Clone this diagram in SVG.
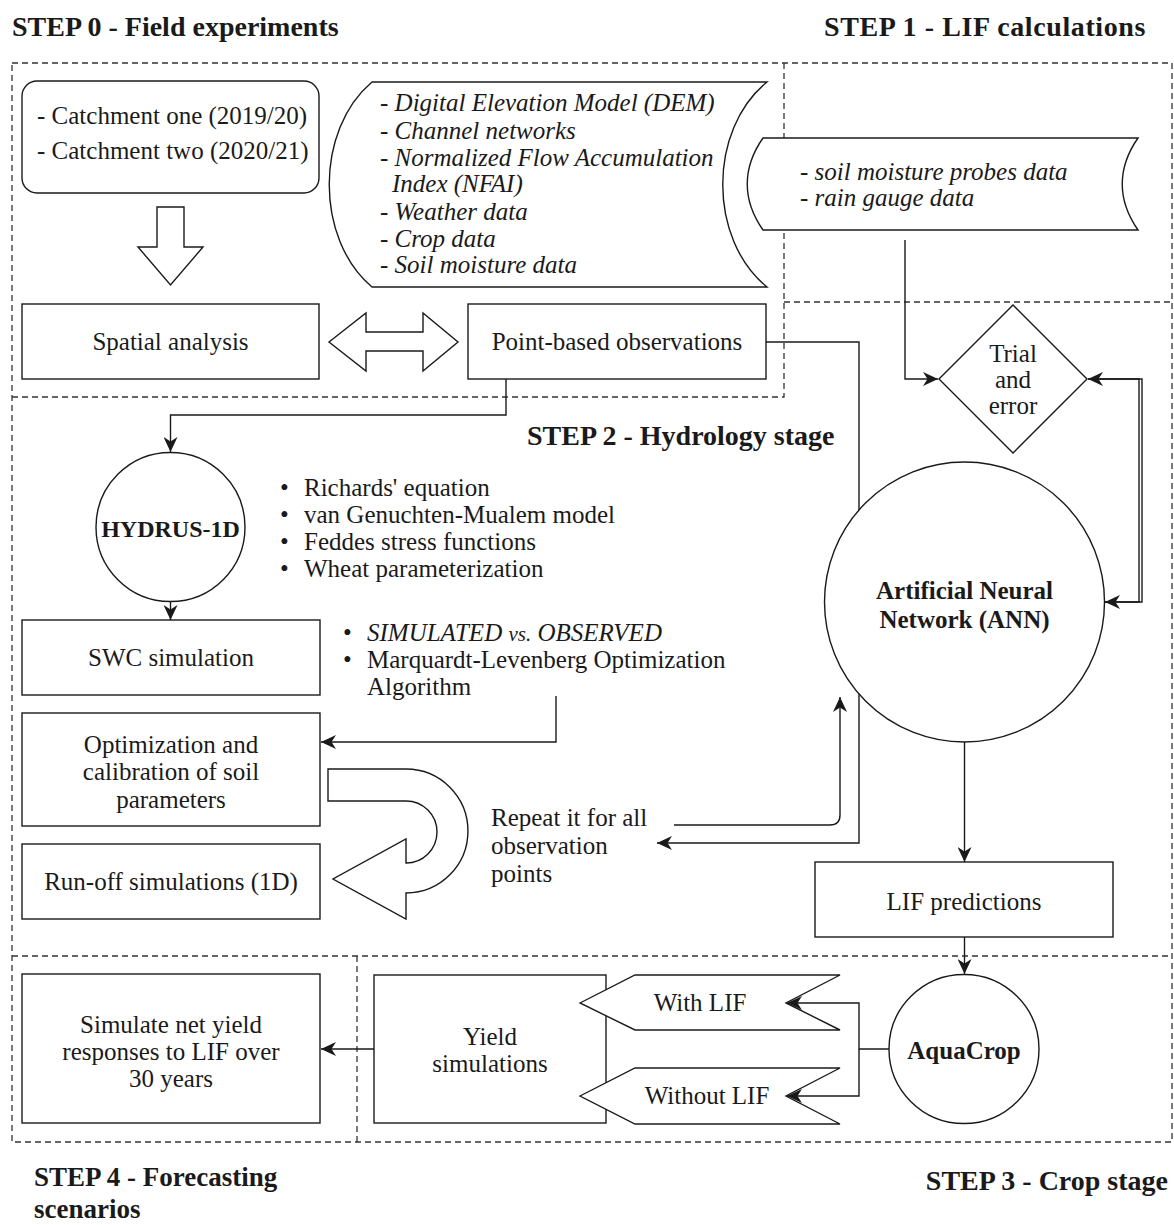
<svg xmlns="http://www.w3.org/2000/svg" width="1174" height="1225" viewBox="0 0 1174 1225">
<style>
.t{font-family:"Liberation Serif","Times New Roman",serif;font-size:25px;fill:#1a1a1a}
.b{font-weight:bold}
.i{font-style:italic}
.h{font-family:"Liberation Serif","Times New Roman",serif;font-size:28px;font-weight:bold;fill:#1a1a1a}
.m{text-anchor:middle}
.n{fill:#fff;stroke:#1a1a1a;stroke-width:1.4}
.d{fill:none;stroke:#333;stroke-width:1.3;stroke-dasharray:6 4}
.c{fill:none;stroke:#1a1a1a;stroke-width:1.4}
</style>
<defs>
<marker id="arr" viewBox="0 0 15 14" refX="15" refY="7" markerWidth="15" markerHeight="14" markerUnits="userSpaceOnUse" orient="auto">
<path d="M0,0 L15,7 L0,14 L4.5,7 Z" fill="#1a1a1a"/>
</marker>
</defs>
<rect width="1174" height="1225" fill="#fff"/>

<g id="regions">
<path class="d" d="M12,63 H1172 V1142 H12 Z"/>
<path class="d" d="M784,63 V397 H12"/>
<path class="d" d="M784,302 H1172"/>
<path class="d" d="M12,956 H1172"/>
<path class="d" d="M357,956 V1142"/>
</g>

<g id="titles">
<text class="h" x="12" y="36">STEP 0 - Field experiments</text>
<text class="h" x="824" y="36" style="letter-spacing:0.6px">STEP 1 - LIF calculations</text>
<text class="h" x="527" y="445">STEP 2 - Hydrology stage</text>
<text class="h" x="1168" y="1190" text-anchor="end">STEP 3 - Crop stage</text>
<text class="h" x="34" y="1186" style="font-size:27px">STEP 4 - Forecasting</text>
<text class="h" x="34" y="1218" style="font-size:27px">scenarios</text>
</g>

<g id="connectors">
<path class="c" d="M506,379 V415 H170.5 V452" marker-end="url(#arr)"/>
<path class="c" d="M170.5,602 V620" marker-end="url(#arr)"/>
<path class="c" d="M556,696 V742 H321" marker-end="url(#arr)"/>
<path class="c" d="M905,240 V379 H938" marker-end="url(#arr)"/>
<path class="c" d="M1105,602 H1142 V379 H1088" marker-end="url(#arr)"/>
<path class="c" d="M1088,379 H1139 V602 H1105" marker-end="url(#arr)"/>
<path class="c" d="M766,342 H859 V843 H657" marker-end="url(#arr)"/>
<path class="c" d="M674,825 H830 Q840,825 840,815 V697" marker-end="url(#arr)"/>
<path class="c" d="M964.5,742 V862" marker-end="url(#arr)"/>
<path class="c" d="M964.5,937 V974" marker-end="url(#arr)"/>
<path class="c" d="M889,1049 H859 V1003 H787" marker-end="url(#arr)"/>
<path class="c" d="M859,1049 V1096 H787" marker-end="url(#arr)"/>
<path class="c" d="M374,1049 H321" marker-end="url(#arr)"/>
</g>

<g id="catchments">
<rect class="n" x="22" y="81" width="297" height="112" rx="15"/>
<text class="t" x="37" y="124">- Catchment one (2019/20)</text>
<text class="t" x="37" y="159">- Catchment two (2020/21)</text>
</g>

<g id="data-inputs">
<path class="n" d="M372,82 H767 C708,130 708,239 767,287 H372 C315,239 315,130 372,82 Z"/>
<text class="t" x="380" y="111">- <tspan class="i">Digital Elevation Model (DEM)</tspan></text>
<text class="t" x="380" y="139">- <tspan class="i">Channel networks</tspan></text>
<text class="t" x="380" y="166">- <tspan class="i">Normalized Flow Accumulation</tspan></text>
<text class="t i" x="392" y="192">Index (NFAI)</text>
<text class="t" x="380" y="220">- <tspan class="i">Weather data</tspan></text>
<text class="t" x="380" y="247">- <tspan class="i">Crop data</tspan></text>
<text class="t" x="380" y="273">- <tspan class="i">Soil moisture data</tspan></text>
</g>

<g id="down-arrow">
<polygon class="n" points="157,207 184,207 184,247 203,247 170.5,285 138,247 157,247"/>
</g>

<g id="spatial-analysis">
<rect class="n" x="22" y="304" width="297" height="75"/>
<text class="t m" x="170.5" y="350">Spatial analysis</text>
</g>

<g id="double-arrow">
<polygon class="n" points="329,342 366,313 366,332 423,332 423,313 458,342 423,371 423,351 366,351 366,371"/>
</g>

<g id="point-observations">
<rect class="n" x="468" y="304" width="298" height="75"/>
<text class="t m" x="617" y="350">Point-based observations</text>
</g>

<g id="probes-data">
<path class="n" d="M763,138 H1138 C1117,168 1117,200 1138,230 H763 C742,200 742,168 763,138 Z"/>
<text class="t" x="800" y="180">- <tspan class="i">soil moisture probes data</tspan></text>
<text class="t" x="800" y="206">- <tspan class="i">rain gauge data</tspan></text>
</g>

<g id="trial-error">
<polygon class="n" points="1013,305 1087,379 1013,453 939,379"/>
<text class="t m" x="1013" y="362">Trial</text>
<text class="t m" x="1013" y="388">and</text>
<text class="t m" x="1013" y="414">error</text>
</g>

<g id="hydrus">
<circle class="n" cx="170.5" cy="527" r="74.5"/>
<text class="t b m" x="170.5" y="537" style="font-size:24px">HYDRUS-1D</text>
</g>

<g id="hydrus-notes">
<text class="t" x="280" y="496">•</text><text class="t" x="304" y="496">Richards' equation</text>
<text class="t" x="280" y="523">•</text><text class="t" x="304" y="523">van Genuchten-Mualem model</text>
<text class="t" x="280" y="550">•</text><text class="t" x="304" y="550">Feddes stress functions</text>
<text class="t" x="280" y="577">•</text><text class="t" x="304" y="577">Wheat parameterization</text>
</g>

<g id="swc-simulation">
<rect class="n" x="22" y="620" width="298" height="75"/>
<text class="t m" x="171" y="666">SWC simulation</text>
</g>

<g id="swc-notes">
<text class="t" x="343" y="641">•</text><text class="t i" x="367" y="641">SIMULATED <tspan style="font-size:21px">vs.</tspan> OBSERVED</text>
<text class="t" x="343" y="668">•</text><text class="t" x="367" y="668">Marquardt-Levenberg Optimization</text>
<text class="t" x="367" y="695">Algorithm</text>
</g>

<g id="optimization">
<rect class="n" x="22" y="713" width="298" height="113"/>
<text class="t m" x="171" y="753">Optimization and</text>
<text class="t m" x="171" y="780">calibration of soil</text>
<text class="t m" x="171" y="808">parameters</text>
</g>

<g id="runoff">
<rect class="n" x="22" y="844" width="298" height="75"/>
<text class="t m" x="171" y="890">Run-off simulations (1D)</text>
</g>

<g id="u-turn-arrow">
<path class="n" d="M328,769 H406 A62,62 0 0 1 406,893 V919 L333,879 L406,839 V863 A31,31 0 0 0 406,801 H328 Z"/>
</g>

<g id="repeat-label">
<text class="t" x="491" y="826">Repeat it for all</text>
<text class="t" x="491" y="854">observation</text>
<text class="t" x="491" y="882">points</text>
</g>

<g id="ann">
<circle class="n" cx="964.5" cy="602" r="140"/>
<text class="t b m" x="964.5" y="599">Artificial Neural</text>
<text class="t b m" x="964.5" y="628">Network (ANN)</text>
</g>

<g id="lif-predictions">
<rect class="n" x="815" y="862" width="298" height="75"/>
<text class="t m" x="964" y="910">LIF predictions</text>
</g>

<g id="aquacrop">
<ellipse class="n" cx="964" cy="1049" rx="75" ry="74.5"/>
<text class="t b m" x="964" y="1059">AquaCrop</text>
</g>

<g id="yield-simulations">
<rect class="n" x="374" y="975" width="232" height="148"/>
<text class="t m" x="490" y="1045">Yield</text>
<text class="t m" x="490" y="1072">simulations</text>
</g>

<g id="with-lif">
<polygon class="n" points="580,1003 635,975 840,975 786,1003 840,1030 635,1030"/>
<text class="t m" x="700" y="1011">With LIF</text>
</g>

<g id="without-lif">
<polygon class="n" points="580,1096 635,1068 840,1068 786,1096 840,1124 635,1124"/>
<text class="t m" x="707" y="1104">Without LIF</text>
</g>

<g id="net-yield">
<rect class="n" x="22" y="974" width="298" height="149"/>
<text class="t m" x="171" y="1033">Simulate net yield</text>
<text class="t m" x="171" y="1060">responses to LIF over</text>
<text class="t m" x="171" y="1087">30 years</text>
</g>
</svg>
